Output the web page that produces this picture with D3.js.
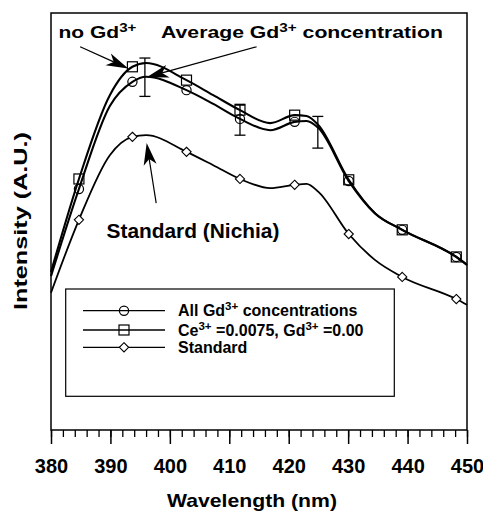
<!DOCTYPE html>
<html><head><meta charset="utf-8">
<script src="https://cdn.jsdelivr.net/npm/d3@7"></script>
<style>body{margin:0;background:#fff}</style>
</head><body>
<svg id="chart" width="483" height="514"></svg>
<script>
// Emission spectra (arbitrary intensity units)
const wavelengths     = [380, 384.7, 389.9, 393.7, 396, 402.8, 407.3, 411.8, 416.9, 421, 423, 425, 430.1, 434.5, 439.1, 448.2, 450];
const noGdValues      = [37.9, 60.2, 80.3, 87.1, 88.0, 83.9, 80.3, 76.7, 73.6, 75.5, 75.3, 73.1, 60.0, 52.0, 48.0, 41.5, 39.6];
const averageValues   = [36.9, 57.8, 77.7, 83.5, 84.7, 81.5, 78.2, 74.6, 71.9, 73.9, 74.1, 72.4, 59.7, 52.0, 48.0, 41.5, 39.6];
const standardValues  = [32.9, 50.4, 65.9, 70.3, 70.7, 66.7, 63.5, 60.2, 58.0, 58.8, 59.0, 57.1, 47.0, 40.8, 36.7, 31.4, 30.0];
const markerWavelengths = [384.7, 393.7, 402.8, 411.8, 421, 430.1, 439.1, 448.2];

// Spread of the Gd3+ series
const errorWavelengths = [395.8, 411.8, 424.9];
const errorCenters     = [84.6, 74.4, 71.4];
const errorHalfRanges  = [4.6, 3.7, 3.8];

const majorTicks = [380, 390, 400, 410, 420, 430, 440, 450];
const minorTicks = d3.range(380, 451, 2);

const legendLabels = [
  [{t: "All Gd"}, {t: "3+", sup: true}, {t: " concentrations"}],
  [{t: "Ce"}, {t: "3+", sup: true}, {t: " =0.0075, Gd"}, {t: "3+", sup: true}, {t: " =0.00"}],
  [{t: "Standard"}]
];
const legendSymbols = ["circle", "square", "diamond"];

// Arrow annotations: [tail wavelength, tail intensity, tip wavelength, tip intensity]
const arrows = [
  [384.9, 91.9, 393.0, 86.7],
  [414.6, 91.9, 396.1, 84.6],
  [397.7, 54.4, 396.1, 68.8]
];

const FONT = "'Liberation Sans', Arial, Helvetica, sans-serif";
const svg = d3.select("#chart");

const x = d3.scaleLinear().domain([380, 450]).range([51, 467]);
const y = d3.scaleLinear().domain([0, 100]).range([430, 13]);

const series = [
  {values: noGdValues, symbol: "square", width: 2.1},
  {values: averageValues, symbol: "circle", width: 2.1},
  {values: standardValues, symbol: "diamond", width: 1.8}
];

function symbolPath(g, kind, cx, cy) {
  if (kind === "circle") {
    g.append("circle").attr("cx", cx).attr("cy", cy).attr("r", 4.6)
      .attr("fill", "none").attr("stroke", "#000").attr("stroke-width", 1.2);
  } else if (kind === "square") {
    g.append("rect").attr("x", cx - 5).attr("y", cy - 5).attr("width", 10).attr("height", 10)
      .attr("fill", "none").attr("stroke", "#000").attr("stroke-width", 1.2);
  } else {
    const r = 4.6;
    g.append("path").attr("d", `M${cx},${cy - r}L${cx + r},${cy}L${cx},${cy + r}L${cx - r},${cy}Z`)
      .attr("fill", "#fff").attr("stroke", "#000").attr("stroke-width", 1.1);
  }
}

// rich text with superscripts
function richText(parent, parts, size) {
  const t = parent.append("text").attr("font-family", FONT).attr("font-weight", "bold")
    .attr("font-size", size).attr("fill", "#000");
  parts.forEach(p => {
    const ts = t.append("tspan").text(p.t);
    if (p.sup) ts.attr("font-size", size * 0.72).attr("baseline-shift", "52%");
  });
  return t;
}
// text stretched horizontally to a given width
function fitText(parts, size, x0, y0, width, anchor, rotate) {
  const g = svg.append("g");
  const t = richText(g, parts, size).attr("text-anchor", anchor || "start");
  const natural = t.node().getComputedTextLength();
  const s = width ? width / natural : 1;
  g.attr("transform", `translate(${x0},${y0})` + (rotate ? ` rotate(${rotate})` : "") + ` scale(${s},1)`);
  return g;
}

// curves
const line = d3.line().curve(d3.curveMonotoneX).x(d => x(d[0])).y(d => y(d[1]));
series.forEach(s => {
  const pts = wavelengths.map((w, i) => [w, s.values[i]]);
  svg.append("path").attr("d", line(pts)).attr("fill", "none")
    .attr("stroke", "#000").attr("stroke-width", s.width).attr("stroke-linejoin", "round");
});

// error bars
const eb = svg.append("g").attr("stroke", "#000").attr("stroke-width", 1.3);
errorWavelengths.forEach((w, i) => {
  const cx = x(w), y1 = y(errorCenters[i] + errorHalfRanges[i]), y2 = y(errorCenters[i] - errorHalfRanges[i]);
  eb.append("line").attr("x1", cx).attr("x2", cx).attr("y1", y1).attr("y2", y2);
  eb.append("line").attr("x1", cx - 5.5).attr("x2", cx + 5.5).attr("y1", y1).attr("y2", y1);
  eb.append("line").attr("x1", cx - 5.5).attr("x2", cx + 5.5).attr("y1", y2).attr("y2", y2);
});

// markers
const mk = svg.append("g");
series.forEach(s => {
  markerWavelengths.forEach(w => {
    const i = wavelengths.indexOf(w);
    symbolPath(mk, s.symbol, x(w), y(s.values[i]));
  });
});

// frame
svg.append("rect").attr("x", 51).attr("y", 13).attr("width", 416).attr("height", 417)
  .attr("fill", "none").attr("stroke", "#000").attr("stroke-width", 1.5);

// x axis ticks
const minorAxis = svg.append("g").attr("transform", "translate(0,430)")
  .call(d3.axisBottom(x).tickValues(minorTicks).tickSize(7).tickFormat(""));
minorAxis.select(".domain").remove();
minorAxis.selectAll("line").attr("stroke-width", 1.3);
const majorAxis = svg.append("g").attr("transform", "translate(0,430)")
  .call(d3.axisBottom(x).tickValues(majorTicks).tickSize(14).tickFormat(d3.format("d")));
majorAxis.select(".domain").remove();
majorAxis.selectAll("line").attr("stroke-width", 1.5);
majorAxis.selectAll("text").attr("y", 42.5).attr("dy", null)
  .attr("font-family", FONT).attr("font-weight", "bold").attr("font-size", 20).attr("fill", "#000");

// axis titles
fitText([{t: "Wavelength (nm)"}], 19, 252, 507, 170, "middle");
fitText([{t: "Intensity (A.U.)"}], 19, 27, 221, 178, "middle", -90);

// arrows
const ag = svg.append("g");
arrows.forEach(a => {
  const x1 = x(a[0]), y1 = y(a[1]), x2 = x(a[2]), y2 = y(a[3]);
  const ang = Math.atan2(y2 - y1, x2 - x1);
  const L = 22, W = 6.5, N = 16;
  const ux = Math.cos(ang), uy = Math.sin(ang), px = -uy, py = ux;
  ag.append("line").attr("x1", x1).attr("y1", y1).attr("x2", x2 - ux * N).attr("y2", y2 - uy * N)
    .attr("stroke", "#000").attr("stroke-width", 1.2);
  const bx = x2 - ux * L, by = y2 - uy * L;
  ag.append("path").attr("d",
    `M${x2},${y2}L${bx + px * W},${by + py * W}L${x2 - ux * N},${y2 - uy * N}L${bx - px * W},${by - py * W}Z`)
    .attr("fill", "#000");
});

// annotations
fitText([{t: "no Gd"}, {t: "3+", sup: true}], 17, 58.5, 38, 78, "start");
fitText([{t: "Average Gd"}, {t: "3+", sup: true}, {t: " concentration"}], 17, 161, 38, 282, "start");
fitText([{t: "Standard (Nichia)"}], 20, 106.5, 238, 173, "start");

// legend
svg.append("rect").attr("x", 65.7).attr("y", 289).attr("width", 328.6).attr("height", 107.3)
  .attr("fill", "#fff").attr("stroke", "#000").attr("stroke-width", 1.2);
const rowsY = [310.7, 330, 347.3];
legendSymbols.forEach((sym, i) => {
  const g = svg.append("g");
  g.append("line").attr("x1", 83).attr("x2", 165).attr("y1", rowsY[i]).attr("y2", rowsY[i])
    .attr("stroke", "#000").attr("stroke-width", 1.3);
  symbolPath(g, sym, 124, rowsY[i]);
  richText(g, legendLabels[i], 16).attr("x", 178).attr("y", rowsY[i] + 5.5);
});
</script>
</body></html>
